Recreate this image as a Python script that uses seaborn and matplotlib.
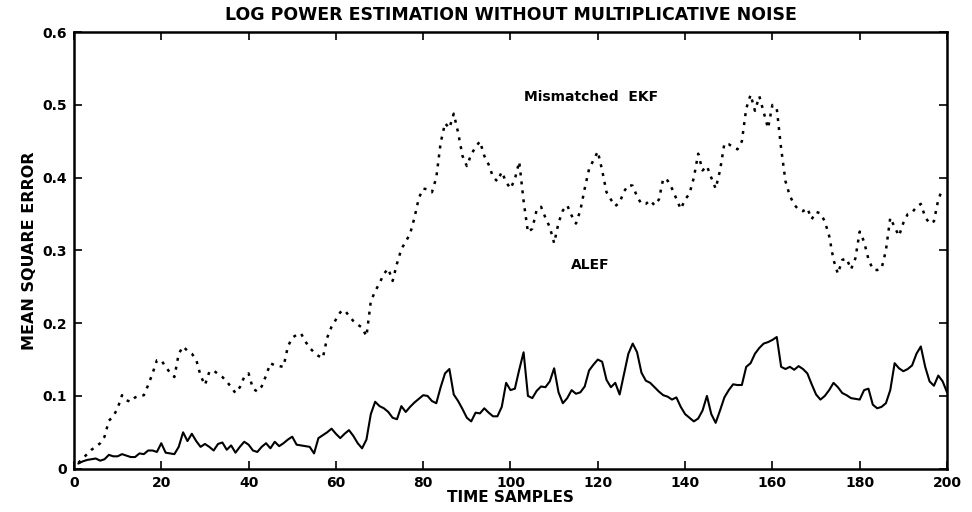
import numpy as np
import pandas as pd
import seaborn as sns
import matplotlib.pyplot as plt

# Mismatched EKF (dotted curve)
ekf_t = list(range(1, 200))
ekf_mse = [0.008, 0.014, 0.020, 0.026, 0.030, 0.035, 0.044, 0.066, 0.072, 0.083,
           0.101, 0.094, 0.092, 0.098, 0.100, 0.101, 0.115, 0.131, 0.149, 0.149,
           0.140, 0.132, 0.126, 0.158, 0.168, 0.162, 0.158, 0.150, 0.128, 0.115,
           0.133, 0.135, 0.130, 0.126, 0.120, 0.112, 0.104, 0.112, 0.126, 0.131,
           0.110, 0.106, 0.113, 0.128, 0.145, 0.142, 0.141, 0.140, 0.168, 0.180,
           0.184, 0.186, 0.175, 0.166, 0.160, 0.155, 0.152, 0.180, 0.195, 0.205,
           0.215, 0.218, 0.210, 0.203, 0.198, 0.194, 0.182, 0.230, 0.244, 0.255,
           0.268, 0.275, 0.258, 0.282, 0.302, 0.312, 0.323, 0.345, 0.372, 0.385,
           0.384, 0.380, 0.400, 0.448, 0.475, 0.468, 0.488, 0.462, 0.430, 0.416,
           0.432, 0.442, 0.450, 0.430, 0.418, 0.401, 0.395, 0.408, 0.394, 0.385,
           0.398, 0.422, 0.368, 0.325, 0.330, 0.356, 0.360, 0.345, 0.332, 0.310,
           0.338, 0.355, 0.362, 0.348, 0.337, 0.355, 0.385, 0.412, 0.424, 0.436,
           0.410, 0.380, 0.370, 0.361, 0.366, 0.381, 0.390, 0.389, 0.374, 0.364,
           0.364, 0.369, 0.362, 0.370, 0.399, 0.396, 0.385, 0.371, 0.357, 0.370,
           0.378, 0.400, 0.433, 0.410, 0.416, 0.400, 0.385, 0.410, 0.447, 0.446,
           0.442, 0.439, 0.450, 0.495, 0.514, 0.492, 0.512, 0.490, 0.468, 0.500,
           0.495, 0.440, 0.395, 0.375, 0.363, 0.356, 0.354, 0.358, 0.343, 0.353,
           0.351, 0.340, 0.320, 0.287, 0.268, 0.287, 0.289, 0.274, 0.289, 0.326,
           0.312, 0.288, 0.274, 0.273, 0.275, 0.300, 0.345, 0.332, 0.320, 0.338,
           0.350, 0.352, 0.360, 0.364, 0.346, 0.337, 0.340, 0.370, 0.385]

# ALEF (solid curve)
alef_t = list(range(1, 201))
alef_mse = [0.007, 0.010, 0.012, 0.013, 0.014, 0.011, 0.013, 0.019, 0.017, 0.017,
            0.020, 0.018, 0.016, 0.016, 0.021, 0.020, 0.025, 0.025, 0.023, 0.035,
            0.022, 0.021, 0.020, 0.030, 0.050, 0.038, 0.048, 0.038, 0.030, 0.034,
            0.030, 0.025, 0.034, 0.036, 0.026, 0.032, 0.022, 0.030, 0.037, 0.033,
            0.025, 0.023, 0.030, 0.035, 0.028, 0.037, 0.031, 0.035, 0.040, 0.044,
            0.033, 0.032, 0.031, 0.030, 0.021, 0.042, 0.046, 0.050, 0.055, 0.048,
            0.042, 0.048, 0.053, 0.045, 0.035, 0.028, 0.040, 0.075, 0.092, 0.086,
            0.083, 0.078, 0.070, 0.068, 0.086, 0.078, 0.085, 0.091, 0.096, 0.101,
            0.100, 0.093, 0.090, 0.112, 0.131, 0.137, 0.102, 0.093, 0.082, 0.070,
            0.065, 0.077, 0.076, 0.083, 0.077, 0.072, 0.072, 0.085, 0.118, 0.108,
            0.110, 0.136, 0.160, 0.100, 0.097, 0.107, 0.113, 0.112, 0.120, 0.138,
            0.105, 0.090, 0.097, 0.108, 0.103, 0.105, 0.113, 0.135, 0.143, 0.150,
            0.147, 0.122, 0.112, 0.118, 0.102, 0.130, 0.158, 0.172, 0.160, 0.132,
            0.121, 0.118, 0.112, 0.106, 0.101, 0.099, 0.095, 0.098, 0.085, 0.075,
            0.070, 0.065, 0.069, 0.080, 0.100, 0.075, 0.063, 0.080, 0.098, 0.108,
            0.116, 0.115, 0.115, 0.140, 0.145, 0.158, 0.166, 0.172, 0.174, 0.177,
            0.181, 0.140, 0.137, 0.140, 0.136, 0.141, 0.137, 0.131, 0.116, 0.102,
            0.095, 0.100, 0.108, 0.118, 0.112, 0.104, 0.101, 0.097, 0.096, 0.095,
            0.108, 0.110, 0.088, 0.083, 0.085, 0.090, 0.108, 0.145, 0.138, 0.134,
            0.137, 0.142, 0.158, 0.168, 0.140, 0.120, 0.114, 0.128, 0.120, 0.105]

x_ticks = list(range(0, 201, 20))
y_ticks = [0, 0.1, 0.2, 0.3, 0.4, 0.5, 0.6]
y_labels = ['0', '0.1', '0.2', '0.3', '0.4', '0.5', '0.6']

sns.set_style("ticks", {"axes.edgecolor": "black", "text.color": "black",
                        "axes.labelcolor": "black", "xtick.color": "black",
                        "ytick.color": "black"})
plt.rcParams['font.family'] = ['DejaVu Sans']
plt.rcParams['font.weight'] = 'bold'

fig = plt.figure(figsize=(9.72, 5.12), dpi=100)
ax = fig.add_axes([0.0761, 0.0846, 0.8982, 0.8525])

sns.lineplot(x=ekf_t, y=ekf_mse, ax=ax, color='black', linewidth=1.8,
             linestyle=(0, (1.2, 2.4)))
sns.lineplot(x=alef_t, y=alef_mse, ax=ax, color='black', linewidth=1.5)

ax.set_xlim(0, 200)
ax.set_ylim(0, 0.6)
ax.set_xticks(x_ticks)
ax.set_xticklabels([str(v) for v in x_ticks])
ax.set_yticks(y_ticks)
ax.set_yticklabels(y_labels)
ax.tick_params(direction='in', length=6, width=1.2, top=True, right=True,
               labelsize=10, pad=5, colors='black')
for lab in ax.get_xticklabels() + ax.get_yticklabels():
    lab.set_fontweight('bold')
for s in ax.spines.values():
    s.set_visible(True)
    s.set_linewidth(1.8)
    s.set_color('black')

ax.set_title('LOG POWER ESTIMATION WITHOUT MULTIPLICATIVE NOISE',
             fontsize=12.5, fontweight='bold', pad=9, color='black')
ax.set_xlabel('TIME SAMPLES', fontsize=11, fontweight='bold', labelpad=0,
              color='black')
ax.set_ylabel('MEAN SQUARE ERROR', fontsize=11.5, fontweight='bold',
              labelpad=4, color='black')

ax.text(118.5, 0.511, 'Mismatched  EKF', ha='center', va='center',
        fontsize=10, fontweight='bold', color='black')
ax.text(118.2, 0.28, 'ALEF', ha='center', va='center',
        fontsize=10, fontweight='bold', color='black')

fig.savefig('out.png', dpi=100)
